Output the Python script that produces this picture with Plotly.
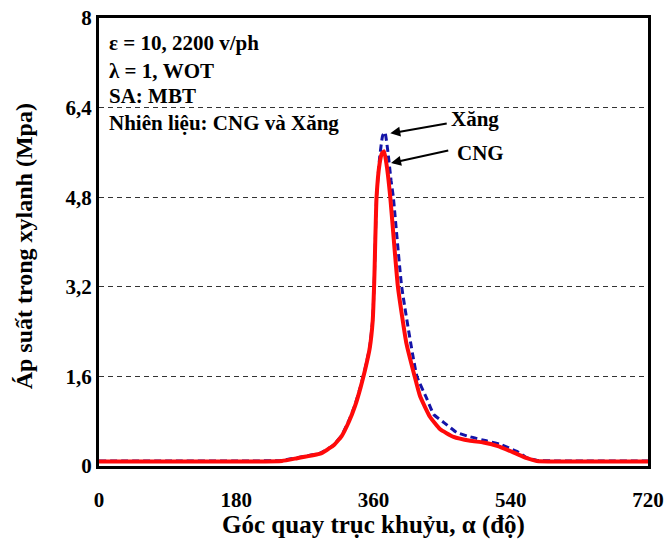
import plotly.graph_objects as go

# Crank angle (deg) and in-cylinder pressure (MPa)
cng_angle = [0, 100, 200, 240, 260, 290, 307, 318, 328, 336, 343, 349, 355, 359, 361, 364, 368, 371, 374,
             378, 382, 392, 403, 414, 421, 434, 447, 465, 487, 504, 522, 544, 561, 574, 600, 720]
cng_p = [0.08, 0.08, 0.08, 0.09, 0.14, 0.22, 0.36, 0.53, 0.80, 1.08, 1.40, 1.72, 2.10, 2.60, 3.30, 4.80, 5.40, 5.58, 5.62,
         5.30, 4.80, 3.20, 2.20, 1.60, 1.25, 0.88, 0.66, 0.52, 0.45, 0.42, 0.36, 0.24, 0.14, 0.09, 0.08, 0.08]

xang_angle = [0, 100, 200, 240, 260, 290, 307, 318, 328, 336, 343, 349, 355, 359, 361, 364, 368, 372, 375,
              379, 383, 386, 397, 417, 430, 439, 452, 469, 487, 508, 526, 548, 561, 575, 600, 720]
xang_p = [0.09, 0.09, 0.09, 0.10, 0.15, 0.23, 0.37, 0.54, 0.82, 1.10, 1.42, 1.74, 2.12, 2.62, 3.30, 4.80, 5.50, 5.90, 5.96,
          5.60, 5.10, 4.80, 3.20, 1.60, 1.20, 0.92, 0.78, 0.60, 0.52, 0.45, 0.39, 0.26, 0.15, 0.10, 0.09, 0.09]

x_ticks = [0, 180, 360, 540, 720]
y_ticks = [0, 1.6, 3.2, 4.8, 6.4, 8]
y_ticktext = ["0", "1,6", "3,2", "4,8", "6,4", "8"]

FONT = "Liberation Serif"


def bold(size):
    return dict(family=FONT, size=size, color="black", weight="bold")


fig = go.Figure()
fig.add_trace(go.Scatter(x=xang_angle, y=xang_p, mode="lines", name="Xăng",
                         line=dict(color="#1414a8", width=3, dash="7px,4px", shape="spline", smoothing=0.4)))
fig.add_trace(go.Scatter(x=cng_angle, y=cng_p, mode="lines", name="CNG",
                         line=dict(color="#ff0a0a", width=4, shape="spline", smoothing=0.4)))

info = ["ε = 10, 2200 v/ph", "λ = 1, WOT", "SA: MBT", "Nhiên liệu: CNG và Xăng"]
info_y = [7.56, 7.06, 6.60, 6.12]
annotations = []
for t, yy in zip(info, info_y):
    annotations.append(dict(x=11, y=yy, xref="x", yref="y", text=t, showarrow=False,
                            xanchor="left", yanchor="middle", font=bold(21)))

# Curve labels with pointing arrows
annotations += [
    dict(x=459, y=6.20, xref="x", yref="y", text="Xăng", showarrow=False,
         xanchor="left", yanchor="middle", font=bold(21)),
    dict(x=467, y=5.59, xref="x", yref="y", text="CNG", showarrow=False,
         xanchor="left", yanchor="middle", font=bold(21)),
    dict(x=382, y=5.94, ax=458, ay=6.12, xref="x", yref="y", axref="x", ayref="y", text="",
         showarrow=True, arrowhead=2, arrowsize=1, arrowwidth=2, arrowcolor="black"),
    dict(x=383, y=5.41, ax=460, ay=5.64, xref="x", yref="y", axref="x", ayref="y", text="",
         showarrow=True, arrowhead=2, arrowsize=1, arrowwidth=2, arrowcolor="black"),
    # y-axis title
    dict(x=-0.135, y=0.49, xref="paper", yref="paper", text="Áp suất trong xylanh (Mpa)",
         textangle=-90, showarrow=False, xanchor="center", yanchor="middle", font=bold(24)),
]

fig.update_layout(
    width=667, height=539,
    margin=dict(l=99, r=19, t=18, b=73),
    paper_bgcolor="white", plot_bgcolor="white",
    showlegend=False,
    font=bold(21),
    annotations=annotations,
    xaxis=dict(range=[0, 720], tickvals=x_ticks, showgrid=False, zeroline=False,
               showline=True, mirror=True, linecolor="black", linewidth=3,
               ticks="", ticklabelstandoff=13, tickfont=bold(21), automargin=False,
               title=dict(text="Góc quay trục khuỷu, α (độ)", standoff=4, font=bold(25))),
    yaxis=dict(range=[0, 8], tickvals=y_ticks, ticktext=y_ticktext,
               showgrid=True, gridcolor="#333333", griddash="5px,4px", gridwidth=1,
               zeroline=False, showline=True, mirror=True, linecolor="black", linewidth=3,
               ticks="", tickfont=bold(21), automargin=False),
)

fig.write_html("out.html")
